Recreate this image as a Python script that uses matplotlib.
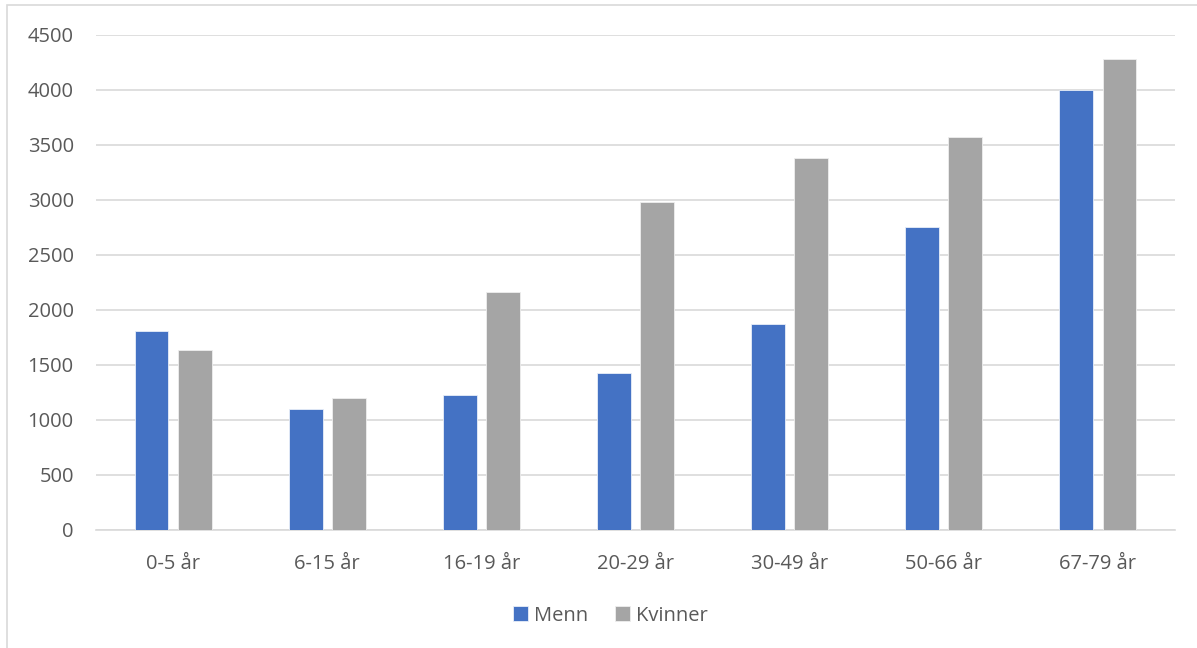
import numpy as np
import matplotlib
matplotlib.use("Agg")
import matplotlib.pyplot as plt
from matplotlib.patches import Rectangle

# aldersgrupper og verdier
groups  = ["0-5 år", "6-15 år", "16-19 år", "20-29 år", "30-49 år", "50-66 år", "67-79 år"]
menn    = [1805, 1100, 1225, 1425, 1870, 2750, 4000]
kvinner = [1636, 1200, 2165, 2980, 3380, 3575, 4285]

blue  = "#4472C4"
grey  = "#A5A5A5"
text  = "#595959"

plt.rcParams['font.family'] = ["Open Sans", "DejaVu Sans"]

fig = plt.figure(figsize=(11.97, 6.48), dpi=100)
ax = fig.add_axes([0.0802, 0.1821, 0.9014, 0.7639])

x = np.arange(len(groups))
w = 0.22
ax.bar(x - 0.14, menn, width=w, color=blue, edgecolor="#e8eef8", linewidth=0.6, label="Menn", zorder=3)
ax.bar(x + 0.14, kvinner, width=w, color=grey, edgecolor="#eeeeee", linewidth=0.6, label="Kvinner", zorder=3)

ax.set_xlim(-0.5, len(groups) - 0.5)
ax.set_ylim(0, 4500)
ax.set_yticks(np.arange(0, 4501, 500))
ax.set_xticks(x)
ax.set_xticklabels(groups)

ax.grid(axis="y", color="#D9D9D9", linewidth=1.2, zorder=0)
for s in ["top", "right", "left"]:
    ax.spines[s].set_visible(False)
ax.spines["bottom"].set_color("#D9D9D9")
ax.spines["bottom"].set_linewidth(1.2)
ax.tick_params(axis="both", length=0, labelsize=14.5, labelcolor=text)
ax.tick_params(axis="y", pad=16)
ax.tick_params(axis="x", pad=17)

leg = fig.legend(loc="center", bbox_to_anchor=(0.51, 0.05), ncol=2, frameon=False,
                 fontsize=14.5, handlelength=0.75, handleheight=0.75, handletextpad=0.3,
                 columnspacing=1.3)
for t in leg.get_texts():
    t.set_color(text)

# ramme rundt diagrammet
fig.patches.append(Rectangle((7 / 1197, -0.01), 1.02, 1 - 5 / 648 + 0.01, transform=fig.transFigure,
                             fill=False, edgecolor="#D9D9D9", linewidth=1.2))

fig.savefig("out.png", dpi=100)
